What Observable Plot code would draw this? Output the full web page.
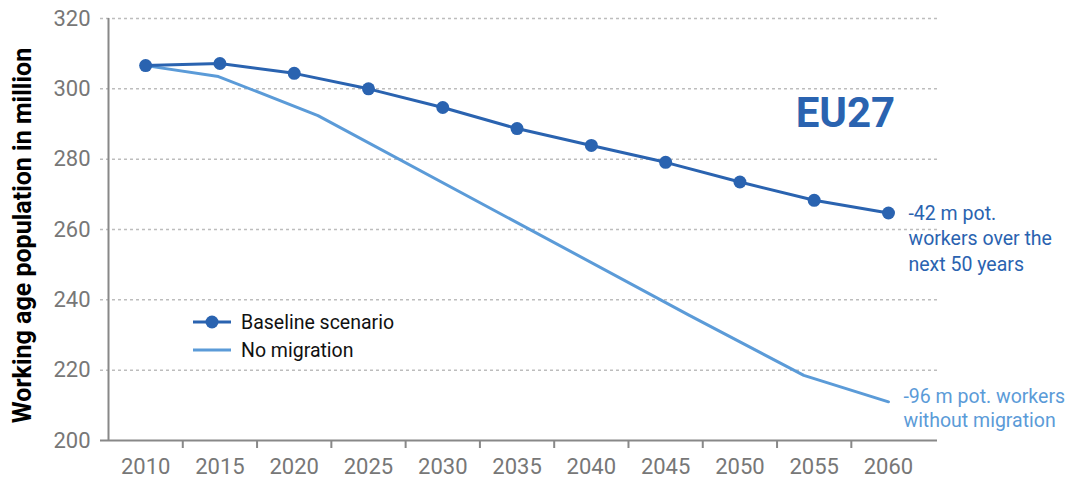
<!DOCTYPE html>
<html>
<head>
<meta charset="utf-8">
<script src="https://cdn.jsdelivr.net/npm/d3@7"></script>
<script src="https://cdn.jsdelivr.net/npm/@observablehq/plot@0.6"></script>
<style>
  html, body { margin: 0; padding: 0; background: #fff; }
  #wrap { position: relative; width: 1078px; height: 485px; font-family: Roboto, sans-serif; }
  #legend { position: absolute; left: 193px; top: 308px; font-size: 19.5px; color: #111; }
  #legend .item { display: flex; align-items: center; height: 28px; }
  #legend svg { margin-right: 10px; }
</style>
</head>
<body>
<div id="wrap">
  <div id="chart"></div>
  <div id="legend"></div>
</div>
<script>
const years = [2010, 2015, 2020, 2025, 2030, 2035, 2040, 2045, 2050, 2055, 2060];
const baseline = [306.6, 307.2, 304.4, 300.0, 294.7, 288.7, 283.9, 279.1, 273.5, 268.3, 264.7];
const noMigYears = [2010, 2014.9, 2021.6, 2046.6, 2054.3, 2060];
const noMigValues = [306.6, 303.5, 292.4, 235.6, 218.5, 211.0];
const yTicks = [200, 220, 240, 260, 280, 300, 320];
const bandEdges = [2007.5, 2012.5, 2017.5, 2022.5, 2027.5, 2032.5, 2037.5, 2042.5, 2047.5, 2052.5, 2057.5, 2062.5];
const seriesNames = ["Baseline scenario", "No migration"];
const seriesColors = ["#2a63b0", "#5b9bd8"];
const title = "EU27";
const yLabel = "Working age population in million";
const noteBaseline = ["-42 m pot.", "workers over the", "next 50 years"];
const noteNoMig = ["-96 m pot. workers", "without migration"];

const baseData = years.map((y, i) => ({year: y, value: baseline[i]}));
const noMigData = noMigYears.map((y, i) => ({year: y, value: noMigValues[i]}));
const gridTicks = yTicks.filter(t => t > 200);

const chart = Plot.plot({
  width: 1078,
  height: 485,
  marginLeft: 108,
  marginRight: 141,
  marginTop: 18,
  marginBottom: 45,
  style: {fontFamily: "Roboto, sans-serif", background: "#fff"},
  x: {domain: [2007.5, 2063.3], axis: null},
  y: {domain: [200, 320], axis: null},
  marks: [
    Plot.ruleY(gridTicks, {stroke: "#bdbdbd", strokeWidth: 1.5, strokeDasharray: "3,3", insetLeft: -8}),
    Plot.ruleX([2007.5], {y1: 200, y2: 320, stroke: "#888", strokeWidth: 2}),
    Plot.ruleY([200], {stroke: "#888", strokeWidth: 2, insetLeft: -8}),
    Plot.axisX({ticks: bandEdges.slice(1, -1), tickFormat: () => "", tickSize: 8, stroke: "#888", strokeWidth: 2, label: null}),
    Plot.axisX({ticks: years, tickFormat: d => String(d), tickSize: 0, tickPadding: 18, fontSize: 22, fill: "#777", strokeOpacity: 0, label: null}),
    Plot.axisY({ticks: yTicks, tickFormat: d => String(d), tickSize: 0, tickPadding: 18, fontSize: 22, fill: "#777", label: null}),
    Plot.text([yLabel], {frameAnchor: "left", textAnchor: "middle", dx: -86, dy: 6, rotate: -90, fontSize: 25, fontWeight: "bold", fill: "#000"}),
    Plot.line(noMigData, {x: "year", y: "value", stroke: seriesColors[1], strokeWidth: 3}),
    Plot.line(baseData, {x: "year", y: "value", stroke: seriesColors[0], strokeWidth: 3}),
    Plot.dot(baseData, {x: "year", y: "value", fill: seriesColors[0], r: 6.5}),
    Plot.text([title], {x: 2057.1, y: 293, fontSize: 42, fontWeight: "bold", fill: seriesColors[0], style: "letter-spacing:2px"}),
    Plot.text([noteBaseline.join("\n")], {x: 2060, y: 264.7, dx: 20, dy: -11, lineAnchor: "top", lineHeight: 1.3, textAnchor: "start", fontSize: 19.5, fill: seriesColors[0]}),
    Plot.text([noteNoMig.join("\n")], {x: 2060, y: 211.0, dx: 15, dy: -17, lineAnchor: "top", lineHeight: 1.28, textAnchor: "start", fontSize: 19.5, fill: seriesColors[1]})
  ]
});
document.getElementById("chart").appendChild(chart);

const legend = document.getElementById("legend");
seriesNames.forEach((name, i) => {
  const item = document.createElement("div");
  item.className = "item";
  const dot = i === 0 ? `<circle cx="19" cy="7" r="6.5" fill="${seriesColors[i]}"/>` : "";
  item.innerHTML = `<svg width="38" height="14"><line x1="0" x2="38" y1="7" y2="7" stroke="${seriesColors[i]}" stroke-width="3"/>${dot}</svg><span>${name}</span>`;
  legend.appendChild(item);
});
</script>
</body>
</html>
